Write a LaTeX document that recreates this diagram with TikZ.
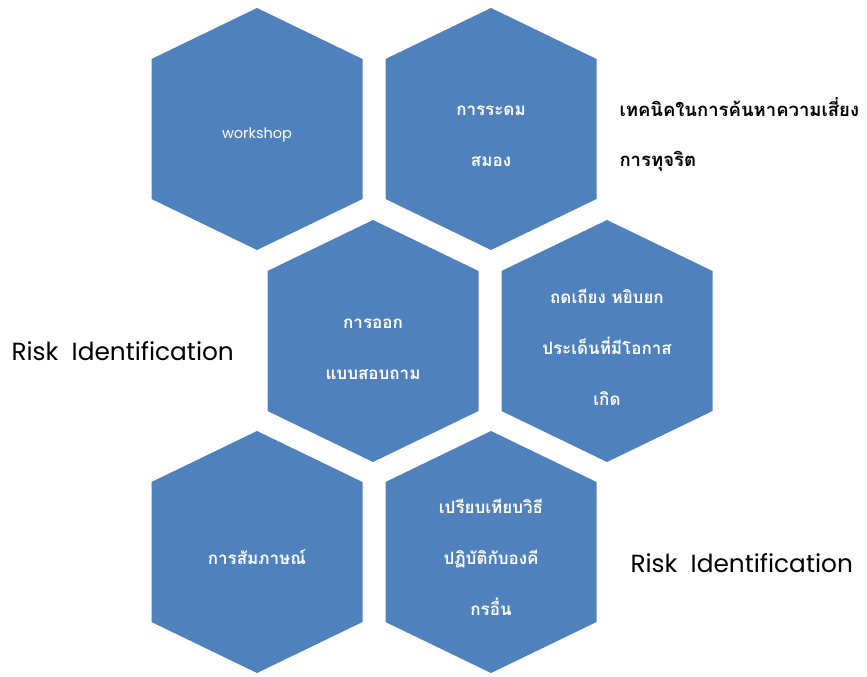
\documentclass[tikz,border=0pt]{standalone}
\usepackage{fontspec}
\newfontfamily\thai[Script=Thai]{Loma}
\newfontfamily\latin{Poppins}
\definecolor{hexblue}{HTML}{4F81BD}
\tikzset{
  hexlabel/.style={text=white, align=center, font=\thai\bfseries\fontsize{17}{51}\selectfont},
  sidelabel/.style={text=black, anchor=west, font=\latin\fontsize{24.8}{28}\selectfont},
  titlelabel/.style={text=black, anchor=west, align=left, font=\thai\bfseries\fontsize{18.5}{50}\selectfont}
}
\newcommand{\hexshape}[3]{%
  \fill[hexblue] (#1,#2-121) -- (#1+105.5,#2-70) -- (#1+105.5,#2+70) -- (#1,#2+121)
    -- (#1-105.5,#2+70) -- (#1-105.5,#2-70) -- cycle;
  \coordinate (#3) at (#1,#2);}
\begin{document}
\begin{tikzpicture}[x=1pt,y=-1pt]
\useasboundingbox (0,0) rectangle (867,677);
\hexshape{257}{129}{h1}
\hexshape{491}{129}{h2}
\hexshape{373}{341}{h3}
\hexshape{607}{341}{h4}
\hexshape{257}{552}{h5}
\hexshape{491}{552}{h6}
\node[hexlabel, font=\latin\fontsize{14.5}{17}\selectfont] (t1) at ([yshift=-6pt]h1) {workshop};
\node[hexlabel] (t2) at ([yshift=-7pt]h2) {การระดม\\สมอง};
\node[hexlabel] (t3) at ([yshift=-8pt]h3) {การออก\\แบบสอบถาม};
\node[hexlabel] (t4) at ([yshift=-6pt]h4) {ถดเถียง หยิบยก\\ประเด็นที่มีโอกาส\\เกิด};
\node[hexlabel] (t5) at ([yshift=-5pt]h5) {การสัมภาษณ์};
\node[hexlabel] (t6) at ([yshift=-5pt]h6) {เปรียบเทียบวิธี\\ปฏิบัติกับองคี\\กรอื่น};
\node[titlelabel] (title) at (616,134) {เทคนิคในการค้นหาความเสี่ยง\\การทุจริต};
\node[sidelabel] (r1) at (8,351) {Risk\ \ Identification};
\node[sidelabel] (r2) at (627,563) {Risk\ \ Identification};
\end{tikzpicture}
\end{document}
